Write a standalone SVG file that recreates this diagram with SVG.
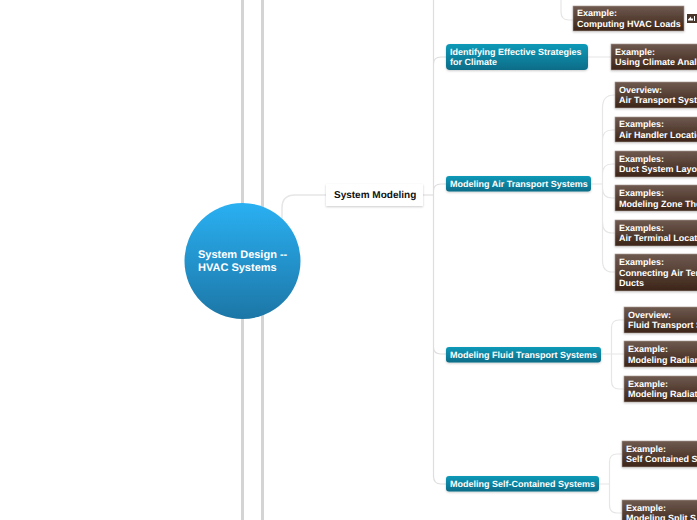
<svg xmlns="http://www.w3.org/2000/svg" width="697" height="520" viewBox="0 0 697 520">
<defs>
<linearGradient id="gc" x1="0" y1="0" x2="0" y2="1"><stop offset="0" stop-color="#2ab0f2"/><stop offset="1" stop-color="#1c76a6"/></linearGradient>
<linearGradient id="gt" x1="0" y1="0" x2="0" y2="1"><stop offset="0" stop-color="#109ab8"/><stop offset="1" stop-color="#0b6c88"/></linearGradient>
<linearGradient id="gb" x1="0" y1="0" x2="0" y2="1"><stop offset="0" stop-color="#6f5a50"/><stop offset="1" stop-color="#3c2417"/></linearGradient>
<filter id="sh" x="-10%" y="-20%" width="120%" height="150%"><feDropShadow dx="0" dy="1" stdDeviation="1.2" flood-color="#000" flood-opacity=".2"/></filter>
</defs>
<style>
text{font-family:"Liberation Sans",Arial,sans-serif;font-weight:700;font-size:9px;fill:#fff;text-rendering:geometricPrecision}
.main{stroke:#d4d4d4;stroke-width:3;fill:none}
.c{stroke:#e6e6e6;stroke-width:1.2;fill:none}
.t{fill:url(#gt);filter:url(#sh)}
.b{fill:url(#gb);stroke:#a89c96;stroke-width:.6;filter:url(#sh)}
</style>
<rect width="697" height="520" fill="#fff"/>
<g id="connectors">
<path class="main" d="M242.500 0V520M262.500 0V520"/>
<path class="c" style="stroke-width:1.500" d="M282 220V208Q282 195 295 195H326M423 195H434"/>
<path class="c" style="stroke:#dedede" d="M433.500 0V476Q433.500 484 441 484H446M433.500 64Q433.500 57 441 57H446M433.500 191Q433.500 184 441 184H446M433.500 347Q433.500 354 441 354H446"/>
<path class="c" d="M561 0V12Q561 20 569 20H573M588 57H611"/>
<path class="c" d="M591 184H602M602.500 184V108Q602.500 95 614 95H615M602.500 140Q602.500 130 612 130H615M602.500 174Q602.500 164 612 164H615M602.500 188Q602.500 198 612 198H615M602.500 222Q602.500 233 612 233H615M602.500 260Q602.500 272 612 272H615M602.500 184V260"/>
<path class="c" d="M601 354H611M611.500 354V328Q611.500 320 619 320H624M611.500 354V381Q611.500 389 619 389H624M601 354H624"/>
<path class="c" d="M599 484H609M609.500 484V462Q609.500 454 617 454H622M609.500 484V505Q609.500 513 617 513H622"/>
</g>
<g id="root"><circle cx="242.500" cy="261" r="58" fill="url(#gc)"/><text x="198" y="258" style="font-size:11px">System Design --</text><text x="198" y="271" style="font-size:11px">HVAC Systems</text></g>
<g id="system-modeling"><rect x="326" y="184" width="97" height="22" fill="#fff" filter="url(#sh)"/><text x="334" y="198" style="fill:#111;font-size:10px">System Modeling</text></g>
<g id="climate"><rect class="t" x="446" y="44" width="142" height="26" rx="4"/><text x="450" y="55">Identifying Effective Strategies</text><text x="450" y="65">for Climate</text></g>
<g id="air"><rect class="t" x="446" y="176" width="145" height="15.500" rx="3"/><text x="450" y="187">Modeling Air Transport Systems</text></g>
<g id="fluid"><rect class="t" x="446" y="347" width="155" height="15.500" rx="3"/><text x="450" y="358">Modeling Fluid Transport Systems</text></g>
<g id="self"><rect class="t" x="446" y="476" width="153" height="15.500" rx="3"/><text x="450" y="487">Modeling Self-Contained Systems</text></g>
<g id="hvac-loads"><rect class="b" x="573" y="6" width="111" height="25"/><text x="577" y="16">Example:</text><text x="577" y="27">Computing HVAC Loads</text></g>
<g id="hvac-icon"><rect x="687" y="14" width="10" height="9" fill="#4a352a"/><path d="M688 19.500L691 16.500V18.500H693V20.500H688ZM694 16H695V21H694Z" fill="#fff"/></g>
<g id="climate-ex"><rect class="b" x="611" y="44" width="90" height="26"/><text x="615" y="55">Example:</text><text x="615" y="65">Using Climate Anal</text></g>
<g id="air1"><rect class="b" x="615" y="82" width="86" height="26"/><text x="619" y="93">Overview:</text><text x="619" y="103">Air Transport Syst</text></g>
<g id="air2"><rect class="b" x="615" y="117" width="86" height="25"/><text x="619" y="127">Examples:</text><text x="619" y="137.500">Air Handler Locatio</text></g>
<g id="air3"><rect class="b" x="615" y="151" width="86" height="26"/><text x="619" y="162">Examples:</text><text x="619" y="172">Duct System Layo</text></g>
<g id="air4"><rect class="b" x="615" y="185" width="86" height="26"/><text x="619" y="196">Examples:</text><text x="619" y="206.500">Modeling Zone The</text></g>
<g id="air5"><rect class="b" x="615" y="220" width="86" height="26"/><text x="619" y="231">Examples:</text><text x="619" y="241">Air Terminal Locat</text></g>
<g id="air6"><rect class="b" x="615" y="254" width="86" height="37"/><text x="619" y="265">Examples:</text><text x="619" y="276">Connecting Air Ter</text><text x="619" y="286">Ducts</text></g>
<g id="fluid1"><rect class="b" x="624" y="307" width="77" height="26"/><text x="628" y="318">Overview:</text><text x="628" y="328">Fluid Transport S</text></g>
<g id="fluid2"><rect class="b" x="624" y="341" width="77" height="26"/><text x="628" y="352">Example:</text><text x="628" y="362.500">Modeling Radian</text></g>
<g id="fluid3"><rect class="b" x="624" y="376" width="77" height="26"/><text x="628" y="387">Example:</text><text x="628" y="397">Modeling Radiat</text></g>
<g id="self1"><rect class="b" x="622" y="441" width="79" height="26"/><text x="626" y="452">Example:</text><text x="626" y="462">Self Contained S</text></g>
<g id="self2"><rect class="b" x="622" y="500" width="79" height="26"/><text x="626" y="511">Example:</text><text x="626" y="520.500">Modeling Split S</text></g>
</svg>
